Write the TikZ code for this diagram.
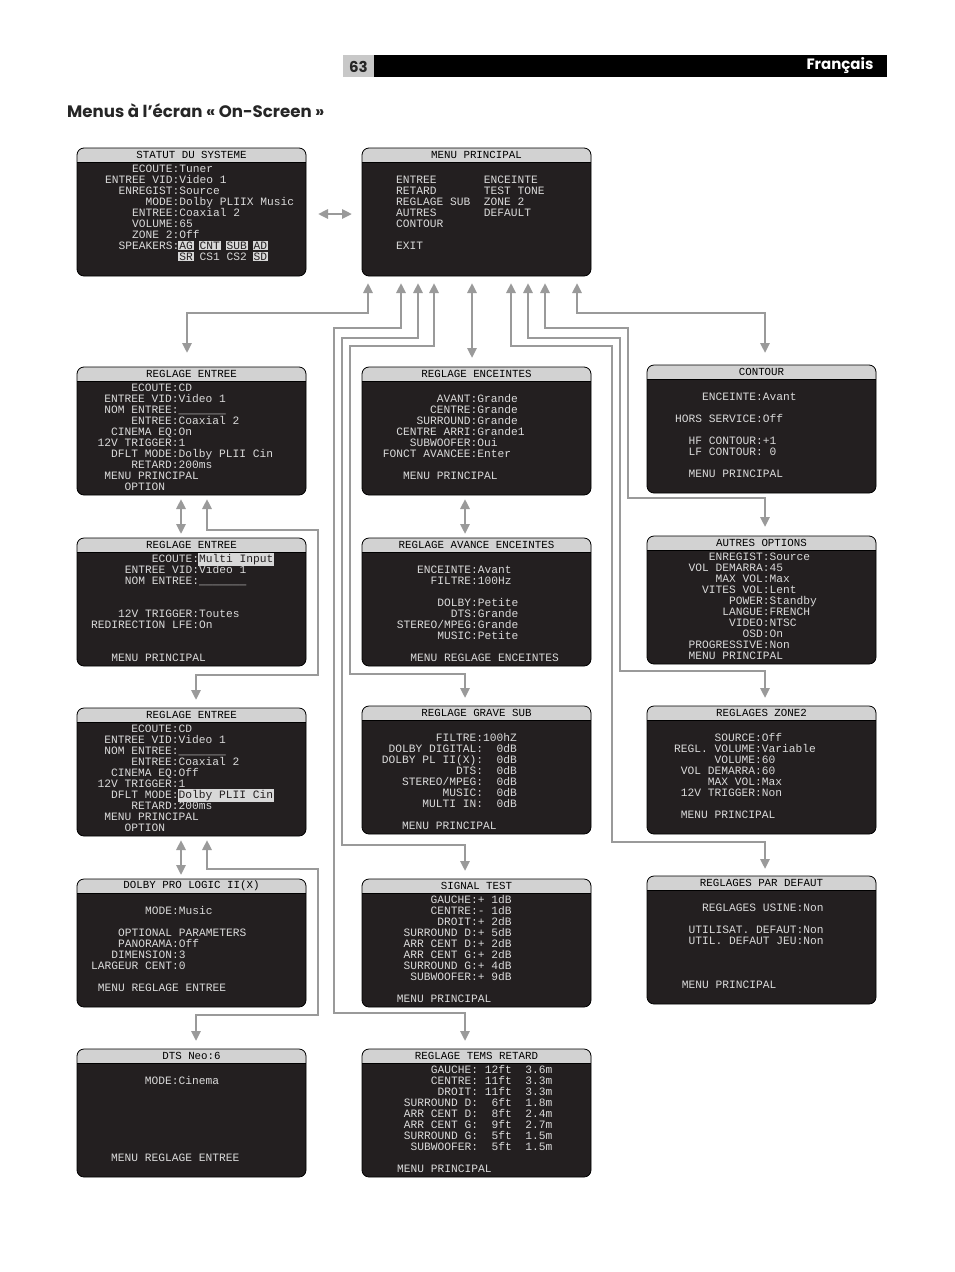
\documentclass[tikz,border=0pt]{standalone}
\usepackage{fontspec}
\setmainfont{Poppins}
\newfontfamily\scrfont{Liberation Mono}
\usetikzlibrary{arrows.meta}
\definecolor{scr}{HTML}{231F20}
\definecolor{bar}{HTML}{D2D2D2}
\definecolor{lnk}{HTML}{9A9A9A}
\definecolor{txt}{HTML}{DADADA}
\definecolor{hlc}{HTML}{D8D8D8}
\definecolor{pgnum}{HTML}{C8C8C8}
\newcommand\hl[1]{{\fboxsep=1pt\kern-1pt\colorbox{hlc}{\color{scr}#1}\kern-1pt}}
\newcommand\scrtxt{\scrfont\fontsize{11.25}{11}\selectfont\frenchspacing\lineskiplimit=-20pt\relax}
\begin{document}
\begin{tikzpicture}[x=1pt,y=-1pt,
  scrbox/.style={draw=black, line width=0.8pt, fill=scr, rounded corners=7pt, anchor=north west, minimum width=229pt, minimum height=128pt, inner sep=0pt, outer sep=0pt,
    path picture={\fill[bar, sharp corners] (path picture bounding box.north west) rectangle ([yshift=-14pt]path picture bounding box.north east);
      \draw[black, line width=0.6pt, sharp corners] ([yshift=-14pt]path picture bounding box.north west) -- ([yshift=-14pt]path picture bounding box.north east);}},
  scrtitle/.style={font=\scrfont\fontsize{10.8}{11}\selectfont, text=black, inner sep=0pt},
  scrbody/.style={anchor=north west, align=left, inner sep=0pt, text=txt, font=\scrtxt},
  link/.style={draw=lnk, line width=2.6pt, {Triangle[length=10pt,width=9pt]}-{Triangle[length=10pt,width=9pt]}}]
\useasboundingbox (0,0) rectangle (954,1272);
\fill[white] (0,0) rectangle (954,1272);

% page head
\fill[pgnum] (343,55) rectangle (374,77);
\node[font=\bfseries\fontsize{15}{15}\selectfont, text=black!85] (pnum) at (358.5,66.5) {63};
\fill[black] (374,55) rectangle (887,77);
\node[anchor=east, font=\bfseries\fontsize{15}{15}\selectfont, text=white] (lang) at (877,66) {Français};
\node[anchor=west, inner sep=0pt, font=\bfseries\fontsize{16.6}{17}\selectfont, text=black!85] (heading) at (67,111) {Menus à l’écran « On-Screen »};

% screens, column 1
\node[scrbox] (statut) at (77,148) {};
\node[scrtitle] (statut-t) at ([yshift=-7pt]statut.north) {STATUT DU SYSTEME};
\node[scrbody] (statut-b) at ([xshift=28pt,yshift=-14pt]statut.north west) {\rule{0pt}{10pt}~~~~ECOUTE:Tuner\\
ENTREE VID:Video 1\\
~~ENREGIST:Source\\
~~~~~~MODE:Dolby PLIIX Music\\
~~~~ENTREE:Coaxial 2\\
~~~~VOLUME:65\\
~~~~ZONE 2:Off\\
~~SPEAKERS:\hl{AG} \hl{CNT} \hl{SUB} \hl{AD}\\
~~~~~~~~~~~\hl{SR} CS1 CS2 \hl{SD}};

\node[scrbox] (entree1) at (77,367) {};
\node[scrtitle] (entree1-t) at ([yshift=-7pt]entree1.north) {REGLAGE ENTREE};
\node[scrbody] (entree1-b) at ([xshift=20.5pt,yshift=-14pt]entree1.north west) {\rule{0pt}{10pt}~~~~~ECOUTE:CD\\
~ENTREE VID:Video 1\\
~NOM ENTREE:\_\_\_\_\_\_\_\\
~~~~~ENTREE:Coaxial 2\\
~~CINEMA EQ:On\\
12V TRIGGER:1\\
~~DFLT MODE:Dolby PLII Cin\\
~~~~~RETARD:200ms\\
~MENU PRINCIPAL\\
~~~~OPTION};

\node[scrbox] (entree2) at (77,538) {};
\node[scrtitle] (entree2-t) at ([yshift=-7pt]entree2.north) {REGLAGE ENTREE};
\node[scrbody] (entree2-b) at ([xshift=14pt,yshift=-14pt]entree2.north west) {\rule{0pt}{10pt}~~~~~~~~~ECOUTE:\hl{Multi Input}\\
~~~~~ENTREE VID:Video 1\\
~~~~~NOM ENTREE:\_\_\_\_\_\_\_\\
\\
\\
~~~~12V TRIGGER:Toutes\\
REDIRECTION LFE:On\\
\\
\\
~~~MENU PRINCIPAL};

\node[scrbox] (entree3) at (77,708) {};
\node[scrtitle] (entree3-t) at ([yshift=-7pt]entree3.north) {REGLAGE ENTREE};
\node[scrbody] (entree3-b) at ([xshift=20.5pt,yshift=-14pt]entree3.north west) {\rule{0pt}{10pt}~~~~~ECOUTE:CD\\
~ENTREE VID:Video 1\\
~NOM ENTREE:\_\_\_\_\_\_\_\\
~~~~~ENTREE:Coaxial 2\\
~~CINEMA EQ:Off\\
12V TRIGGER:1\\
~~DFLT MODE:\hl{Dolby PLII Cin}\\
~~~~~RETARD:200ms\\
~MENU PRINCIPAL\\
~~~~OPTION};

\node[scrbox] (dolby) at (77,879) {};
\node[scrtitle] (dolby-t) at ([yshift=-7pt]dolby.north) {DOLBY PRO LOGIC II(X)};
\node[scrbody] (dolby-b) at ([xshift=14pt,yshift=-14pt]dolby.north west) {\rule{0pt}{10pt}\\
~~~~~~~~MODE:Music\\
\\
~~~~OPTIONAL PARAMETERS\\
~~~~PANORAMA:Off\\
~~~DIMENSION:3\\
LARGEUR CENT:0\\
\\
~MENU REGLAGE ENTREE};

\node[scrbox] (dts) at (77,1049) {};
\node[scrtitle] (dts-t) at ([yshift=-7pt]dts.north) {DTS Neo:6};
\node[scrbody] (dts-b) at ([xshift=34pt,yshift=-14pt]dts.north west) {\rule{0pt}{10pt}\\
~~~~~MODE:Cinema\\
\\
\\
\\
\\
\\
\\
MENU REGLAGE ENTREE};

% screens, column 2
\node[scrbox] (menu) at (362,148) {};
\node[scrtitle] (menu-t) at ([yshift=-7pt]menu.north) {MENU PRINCIPAL};
\node[scrbody] (menu-b) at ([xshift=34pt,yshift=-14pt]menu.north west) {\rule{0pt}{10pt}\\
ENTREE~~~~~~~ENCEINTE\\
RETARD~~~~~~~TEST TONE\\
REGLAGE SUB~~ZONE 2\\
AUTRES~~~~~~~DEFAULT\\
CONTOUR\\
\\
EXIT};

\node[scrbox] (enceintes) at (362,367) {};
\node[scrtitle] (enceintes-t) at ([yshift=-7pt]enceintes.north) {REGLAGE ENCEINTES};
\node[scrbody] (enceintes-b) at ([xshift=20.7pt,yshift=-14pt]enceintes.north west) {\rule{0pt}{10pt}\\
~~~~~~~~AVANT:Grande\\
~~~~~~~CENTRE:Grande\\
~~~~~SURROUND:Grande\\
~~CENTRE ARRI:Grande1\\
~~~~SUBWOOFER:Oui\\
FONCT AVANCEE:Enter\\
\\
~~~MENU PRINCIPAL};

\node[scrbox] (avance) at (362,538) {};
\node[scrtitle] (avance-t) at ([yshift=-7pt]avance.north) {REGLAGE AVANCE ENCEINTES};
\node[scrbody] (avance-b) at ([xshift=34.7pt,yshift=-14pt]avance.north west) {\rule{0pt}{10pt}\\
~~~ENCEINTE:Avant\\
~~~~~FILTRE:100Hz\\
\\
~~~~~~DOLBY:Petite\\
~~~~~~~~DTS:Grande\\
STEREO/MPEG:Grande\\
~~~~~~MUSIC:Petite\\
\\
~~MENU REGLAGE ENCEINTES};

\node[scrbox] (grave) at (362,706) {};
\node[scrtitle] (grave-t) at ([yshift=-7pt]grave.north) {REGLAGE GRAVE SUB};
\node[scrbody] (grave-b) at ([xshift=19.7pt,yshift=-14pt]grave.north west) {\rule{0pt}{10pt}\\
~~~~~~~~FILTRE:100hZ\\
~DOLBY DIGITAL:~~0dB\\
DOLBY PL II(X):~~0dB\\
~~~~~~~~~~~DTS:~~0dB\\
~~~STEREO/MPEG:~~0dB\\
~~~~~~~~~MUSIC:~~0dB\\
~~~~~~MULTI IN:~~0dB\\
\\
~~~MENU PRINCIPAL};

\node[scrbox] (signal) at (362,879) {};
\node[scrtitle] (signal-t) at ([yshift=-7pt]signal.north) {SIGNAL TEST};
\node[scrbody] (signal-b) at ([xshift=34.7pt,yshift=-14pt]signal.north west) {\rule{0pt}{10pt}~~~~~GAUCHE:+ 1dB\\
~~~~~CENTRE:- 1dB\\
~~~~~~DROIT:+ 2dB\\
~SURROUND D:+ 5dB\\
~ARR CENT D:+ 2dB\\
~ARR CENT G:+ 2dB\\
~SURROUND G:+ 4dB\\
~~SUBWOOFER:+ 9dB\\
\\
MENU PRINCIPAL};

\node[scrbox] (tems) at (362,1049) {};
\node[scrtitle] (tems-t) at ([yshift=-7pt]tems.north) {REGLAGE TEMS RETARD};
\node[scrbody] (tems-b) at ([xshift=35pt,yshift=-14pt]tems.north west) {\rule{0pt}{10pt}~~~~~GAUCHE: 12ft~~3.6m\\
~~~~~CENTRE: 11ft~~3.3m\\
~~~~~~DROIT: 11ft~~3.3m\\
~SURROUND D:~~6ft~~1.8m\\
~ARR CENT D:~~8ft~~2.4m\\
~ARR CENT G:~~9ft~~2.7m\\
~SURROUND G:~~5ft~~1.5m\\
~~SUBWOOFER:~~5ft~~1.5m\\
\\
MENU PRINCIPAL};

% screens, column 3
\node[scrbox] (contour) at (647,365) {};
\node[scrtitle] (contour-t) at ([yshift=-7pt]contour.north) {CONTOUR};
\node[scrbody] (contour-b) at ([xshift=28pt,yshift=-14pt]contour.north west) {\rule{0pt}{10pt}\\
~~~~ENCEINTE:Avant\\
\\
HORS SERVICE:Off\\
\\
~~HF CONTOUR:+1\\
~~LF CONTOUR: 0\\
\\
~~MENU PRINCIPAL};

\node[scrbox] (autres) at (647,536) {};
\node[scrtitle] (autres-t) at ([yshift=-7pt]autres.north) {AUTRES OPTIONS};
\node[scrbody] (autres-b) at ([xshift=41.3pt,yshift=-14pt]autres.north west) {\rule{0pt}{10pt}~~~ENREGIST:Source\\
VOL DEMARRA:45\\
~~~~MAX VOL:Max\\
~~VITES VOL:Lent\\
~~~~~~POWER:Standby\\
~~~~~LANGUE:FRENCH\\
~~~~~~VIDEO:NTSC\\
~~~~~~~~OSD:On\\
PROGRESSIVE:Non\\
MENU PRINCIPAL};

\node[scrbox] (zone2) at (647,706) {};
\node[scrtitle] (zone2-t) at ([yshift=-7pt]zone2.north) {REGLAGES ZONE2};
\node[scrbody] (zone2-b) at ([xshift=27pt,yshift=-14pt]zone2.north west) {\rule{0pt}{10pt}\\
~~~~~~SOURCE:Off\\
REGL. VOLUME:Variable\\
~~~~~~VOLUME:60\\
~VOL DEMARRA:60\\
~~~~~MAX VOL:Max\\
~12V TRIGGER:Non\\
\\
~MENU PRINCIPAL};

\node[scrbox] (defaut) at (647,876) {};
\node[scrtitle] (defaut-t) at ([yshift=-7pt]defaut.north) {REGLAGES PAR DEFAUT};
\node[scrbody] (defaut-b) at ([xshift=34.7pt,yshift=-14pt]defaut.north west) {\rule{0pt}{10pt}\\
~~~REGLAGES USINE:Non\\
\\
~UTILISAT. DEFAUT:Non\\
~UTIL. DEFAUT JEU:Non\\
\\
\\
\\
MENU PRINCIPAL};

% links
\draw[link] ([xshift=12pt,yshift=-2pt]statut.east) -- ([xshift=-10pt,yshift=-2pt]menu.west);
\draw[link] ([xshift=6pt,yshift=-7pt]menu.south west) -- ++(0,30) -| ([xshift=110pt,yshift=14pt]entree1.north west);
\draw[link] ([xshift=39pt,yshift=-7pt]menu.south west) |- (334,328) -- (334,1013) -| ([xshift=103pt,yshift=8pt]tems.north west);
\draw[link] ([xshift=56pt,yshift=-7pt]menu.south west) |- (342,338) -- (342,845) -| ([xshift=103pt,yshift=8pt]signal.north west);
\draw[link] ([xshift=72pt,yshift=-7pt]menu.south west) |- (350,346) -- (350,674) -| ([xshift=103pt,yshift=8pt]grave.north west);
\draw[link] ([xshift=110pt,yshift=-7pt]menu.south west) -- ([xshift=110pt,yshift=9pt]enceintes.north west);
\draw[link] ([xshift=149pt,yshift=-7pt]menu.south west) |- (612,346) -- (612,842) -| ([xshift=118pt,yshift=7pt]defaut.north west);
\draw[link] ([xshift=166pt,yshift=-7pt]menu.south west) |- (620,338) -- (620,671) -| ([xshift=118pt,yshift=8pt]zone2.north west);
\draw[link] ([xshift=183pt,yshift=-7pt]menu.south west) |- (628,328) -- (628,498) -| ([xshift=118pt,yshift=9pt]autres.north west);
\draw[link] ([xshift=215pt,yshift=-7pt]menu.south west) -- ++(0,30) -| ([xshift=118pt,yshift=12pt]contour.north west);

\draw[link] ([xshift=104pt,yshift=-4pt]entree1.south west) -- ([xshift=104pt,yshift=4pt]entree2.north west);
\draw[link] ([xshift=130pt,yshift=-4pt]entree1.south west) |- (318,530) -- (318,675) -| ([xshift=119pt,yshift=8pt]entree3.north west);
\draw[link] ([xshift=104pt,yshift=-4pt]entree3.south west) -- ([xshift=104pt,yshift=4pt]dolby.north west);
\draw[link] ([xshift=130pt,yshift=-4pt]entree3.south west) |- (318,869) -- (318,1015) -| ([xshift=119pt,yshift=8pt]dts.north west);
\draw[link] ([xshift=103pt,yshift=-4pt]enceintes.south west) -- ([xshift=103pt,yshift=4pt]avance.north west);

\end{tikzpicture}
\end{document}
